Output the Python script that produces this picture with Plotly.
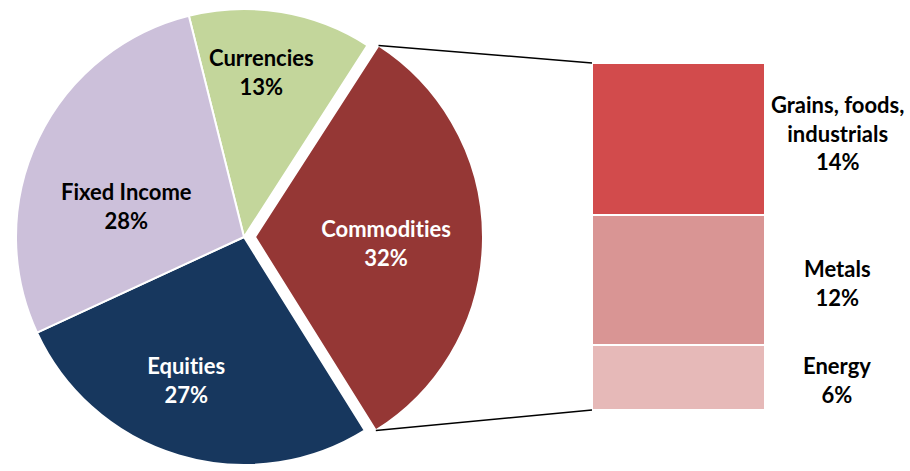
import math
import plotly.graph_objects as go

# ---- data ----
pie_labels = ["Currencies", "Commodities", "Equities", "Fixed Income"]
pie_values = [13, 32, 27, 28]
pie_colors = ["#C3D69B", "#953735", "#17375E", "#CCC0DA"]
pie_text_colors = ["black", "white", "white", "black"]

sub_labels = ["Energy", "Metals", "Grains, foods,<br>industrials"]
sub_values = [6, 12, 14]
sub_colors = ["#E6B9B8", "#D99594", "#D24B4C"]

# ---- layout constants (pixels) ----
W, H = 910, 471
PIE_CX, PIE_CY, PIE_R = 244, 237, 228
PULL_PX = 11
EXPLODE = "Commodities"
ROTATION = -14
BAR_X0, BAR_X1 = 592, 765
BAR_Y0, BAR_Y1 = 63, 410
SUB_LABEL_X = 837
SUB_LABEL_YSHIFT = [-3, -3, 6]
FONT = "Lato"
FS = 22
CLEAR = "rgba(0,0,0,0)"

# pie label placement (radius fraction, angle offset deg)
lab_rfrac = [0.73, 0.575, 0.677, 0.532]
lab_dang = [-3.2, 2.4, 5.5, -11]


def px2paper(x, y):
    return x / W, 1 - y / H


def pie_domain(cx, cy, r):
    return dict(x=[(cx - r) / W, (cx + r) / W], y=[1 - (cy + r) / H, 1 - (cy - r) / H])


# angles of each slice
total = sum(pie_values)
starts, spans = [], []
a = ROTATION
for v in pie_values:
    starts.append(a)
    spans.append(v / total * 360)
    a += v / total * 360

ei = pie_labels.index(EXPLODE)
emid = math.radians(starts[ei] + spans[ei] / 2)
ecx = PIE_CX + PULL_PX * math.sin(emid)
ecy = PIE_CY - PULL_PX * math.cos(emid)

fig = go.Figure()
main_cols = [CLEAR if l == EXPLODE else c for l, c in zip(pie_labels, pie_colors)]
main_line = [CLEAR if l == EXPLODE else "white" for l in pie_labels]
fig.add_trace(go.Pie(
    labels=pie_labels, values=pie_values, sort=False, direction="clockwise",
    rotation=ROTATION, textinfo="none", hoverinfo="label+percent",
    marker=dict(colors=main_cols, line=dict(color=main_line, width=2)),
    domain=pie_domain(PIE_CX, PIE_CY, PIE_R), showlegend=False,
))
exp_cols = [c if l == EXPLODE else CLEAR for l, c in zip(pie_labels, pie_colors)]
exp_line = ["white" if l == EXPLODE else CLEAR for l in pie_labels]
fig.add_trace(go.Pie(
    labels=pie_labels, values=pie_values, sort=False, direction="clockwise",
    rotation=ROTATION, textinfo="none", hoverinfo="skip",
    marker=dict(colors=exp_cols, line=dict(color=exp_line, width=2)),
    domain=pie_domain(ecx, ecy, PIE_R), showlegend=False,
))

xdom = [BAR_X0 / W, BAR_X1 / W]
ydom = [1 - BAR_Y1 / H, 1 - BAR_Y0 / H]
total_sub = sum(sub_values)
for lab, v, c in zip(sub_labels, sub_values, sub_colors):
    fig.add_trace(go.Bar(x=[0], y=[v], width=1, name=lab.replace("<br>", " "),
                         marker=dict(color=c, line=dict(color="white", width=2)),
                         showlegend=False, hoverinfo="y+name"))

annotations = []
for i, (lab, v) in enumerate(zip(pie_labels, pie_values)):
    ccx, ccy = (ecx, ecy) if lab == EXPLODE else (PIE_CX, PIE_CY)
    la = math.radians(starts[i] + spans[i] / 2 + lab_dang[i])
    lx = ccx + lab_rfrac[i] * PIE_R * math.sin(la)
    ly = ccy - lab_rfrac[i] * PIE_R * math.cos(la)
    px, py = px2paper(lx, ly)
    annotations.append(dict(x=px, y=py, xref="paper", yref="paper",
                            xanchor="center", yanchor="middle",
                            text=f"<b>{lab}<br>{v}%</b>", showarrow=False,
                            font=dict(family=FONT, size=FS, color=pie_text_colors[i])))

cum = 0
for j, (lab, v) in enumerate(zip(sub_labels, sub_values)):
    annotations.append(dict(x=SUB_LABEL_X / W, y=cum + v / 2, xref="paper", yref="y",
                            xanchor="center", yanchor="middle", yshift=SUB_LABEL_YSHIFT[j],
                            text=f"<b>{lab}<br>{v}%</b>", showarrow=False,
                            font=dict(family=FONT, size=FS, color="black")))
    cum += v

# connector lines from the exploded slice's outer corners to the bar
a0 = math.radians(starts[ei])
a1 = math.radians(starts[ei] + spans[ei])
p0 = px2paper(ecx + PIE_R * math.sin(a0), ecy - PIE_R * math.cos(a0))
p1 = px2paper(ecx + PIE_R * math.sin(a1), ecy - PIE_R * math.cos(a1))
shapes = [
    dict(type="line", xref="paper", yref="paper", x0=p0[0], y0=p0[1],
         x1=xdom[0], y1=ydom[1], line=dict(color="black", width=1.5)),
    dict(type="line", xref="paper", yref="paper", x0=p1[0], y0=p1[1],
         x1=xdom[0], y1=ydom[0], line=dict(color="black", width=1.5)),
]

fig.update_layout(
    width=W, height=H, margin=dict(l=0, r=0, t=0, b=0),
    paper_bgcolor="white", plot_bgcolor="white", barmode="stack",
    xaxis=dict(domain=xdom, range=[-0.5, 0.5], visible=False, fixedrange=True),
    yaxis=dict(domain=ydom, range=[0, total_sub], visible=False, fixedrange=True),
    annotations=annotations, shapes=shapes,
    font=dict(family=FONT),
)
post = (
    "document.body.style.margin='0';document.body.style.overflow='hidden';"
    "var s=document.createElement('style');"
    "s.innerHTML='text{font-variant-ligatures:none !important;font-feature-settings:\"liga\" 0,\"clig\" 0 !important;}';"
    "document.head.appendChild(s);"
)
fig.write_html("out.html", config={"displayModeBar": False}, post_script=post)
